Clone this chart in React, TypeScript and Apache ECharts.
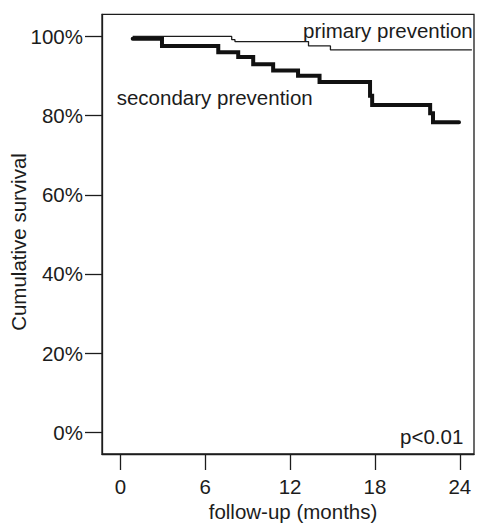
import React, { useEffect, useRef } from "react";
import * as echarts from "echarts";

const xTicks = [0, 6, 12, 18, 24];
const yTicks = [0, 20, 40, 60, 80, 100];

const primaryTimes = [0.87, 7.87, 8.1, 13.3, 14.85, 24.85];
const primaryValues = [100, 99.2, 98.7, 97.6, 96.6, 96.6];

const secondaryTimes = [0.87, 2.94, 6.92, 8.33, 9.39, 10.8, 12.56, 14.08, 17.65, 17.8, 21.9, 22.1, 23.94];
const secondaryValues = [99.4, 97.6, 96.0, 94.8, 93.0, 91.4, 90.1, 88.5, 85.0, 82.7, 80.6, 78.3, 78.3];

const FONT = '"Liberation Sans", Arial, Helvetica, sans-serif';
const INK = "#1c1c1c";

export default function App() {
  const ref = useRef<HTMLDivElement>(null);
  useEffect(() => {
    if (!ref.current) return;
    const chart = echarts.init(ref.current, null, { renderer: "svg" });
    const zip = (t: number[], v: number[]) => t.map((x, i) => [x, v[i]]);
    chart.setOption({
      animation: false,
      backgroundColor: "#fff",
      textStyle: { fontFamily: FONT },
      grid: {
        left: 102,
        right: 5,
        top: 14.3,
        bottom: 69,
        show: true,
        borderColor: INK,
        borderWidth: 1.3,
        backgroundColor: "transparent",
      },
      xAxis: {
        type: "value",
        min: -1.3,
        max: 25,
        axisLine: { show: true, onZero: false, lineStyle: { color: INK, width: 1.3 } },
        splitLine: { show: false },
        axisTick: {
          show: true,
          customValues: xTicks,
          length: 16,
          inside: false,
          lineStyle: { color: INK, width: 1.3 },
        },
        axisLabel: {
          customValues: xTicks,
          margin: 22,
          inside: false,
          fontSize: 20.5,
          color: INK,
          fontFamily: FONT,
        },
      },
      yAxis: {
        type: "value",
        min: -5.5,
        max: 105.6,
        axisLine: { show: true, onZero: false, lineStyle: { color: INK, width: 1.3 } },
        splitLine: { show: false },
        axisTick: {
          show: true,
          customValues: yTicks,
          length: 17,
          inside: false,
          lineStyle: { color: INK, width: 1.3 },
        },
        axisLabel: {
          customValues: yTicks,
          margin: 19,
          inside: false,
          fontSize: 20.5,
          color: INK,
          fontFamily: FONT,
          formatter: (v: number) => `${v}%`,
        },
      },
      series: [
        {
          type: "line",
          name: "primary prevention",
          step: "end",
          data: zip(primaryTimes, primaryValues),
          showSymbol: false,
          lineStyle: { color: INK, width: 1.3 },
        },
        {
          type: "line",
          name: "secondary prevention",
          step: "end",
          data: zip(secondaryTimes, secondaryValues),
          showSymbol: false,
          lineStyle: { color: "#111", width: 4, cap: "round", join: "miter" },
        },
      ],
      graphic: [
        {
          type: "text",
          x: 303,
          y: 30,
          style: { text: "primary prevention", font: `20.5px ${FONT}`, fill: INK, textAlign: "left", textVerticalAlign: "middle" },
        },
        {
          type: "text",
          x: 116.7,
          y: 97,
          style: { text: "secondary prevention", font: `20.5px ${FONT}`, fill: INK, textAlign: "left", textVerticalAlign: "middle" },
        },
        {
          type: "text",
          x: 463.3,
          y: 436,
          style: { text: "p<0.01", font: `20.5px ${FONT}`, fill: INK, textAlign: "right", textVerticalAlign: "middle" },
        },
        {
          type: "text",
          x: 293,
          y: 511.5,
          style: { text: "follow-up (months)", font: `20.5px ${FONT}`, fill: INK, textAlign: "center", textVerticalAlign: "middle" },
        },
        {
          type: "text",
          x: 18,
          y: 242,
          rotation: Math.PI / 2,
          style: { text: "Cumulative survival", font: `20.5px ${FONT}`, fill: INK, textAlign: "center", textVerticalAlign: "middle" },
        },
      ],
    });
    return () => chart.dispose();
  }, []);
  return (
    <div
      ref={ref}
      style={{ position: "fixed", left: 0, top: 0, width: 479, height: 523, background: "#fff" }}
    />
  );
}
